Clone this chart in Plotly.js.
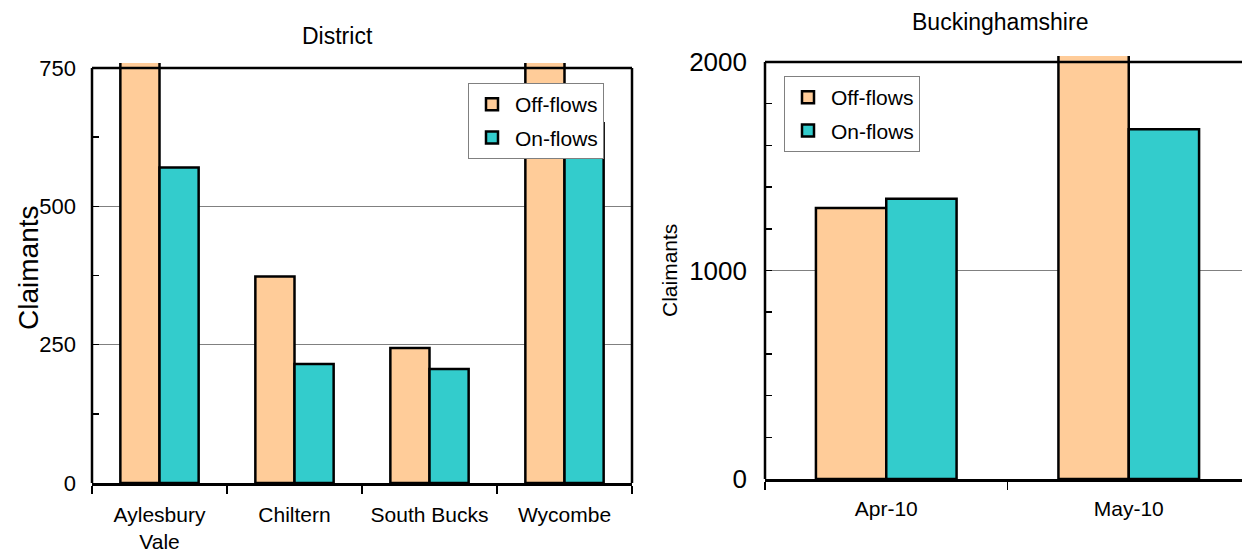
<!DOCTYPE html>
<html>
<head>
<meta charset="utf-8">
<script src="https://cdn.plot.ly/plotly-3.0.1.min.js"></script>
<style>html,body{margin:0;padding:0;background:#fff;}#chart{width:1242px;height:552px;}</style>
</head>
<body>
<div id="chart"></div>
<script>
// ---- data ----
const districts = ['Aylesbury<br>Vale', 'Chiltern', 'South Bucks', 'Wycombe'];
const districtOffFlows = [790, 373, 244, 780];
const districtOnFlows = [570, 215, 206, 650];

const months = ['Apr-10', 'May-10'];
const countyOffFlows = [1300, 2100];
const countyOnFlows = [1344, 1678];

const districtTicks = [0, 250, 500, 750];
const districtMinorTicks = [125, 375, 625];
const countyTicks = [0, 1000, 2000];
const countyMinorTicks = [200, 400, 600, 800, 1200, 1400, 1600, 1800];

// ---- styling ----
const FONT = 'Arial, "Liberation Sans", sans-serif';
const OFF_COLOR = '#FFCC99';
const ON_COLOR = '#33CCCC';
const W = 1242, H = 552;

const y1Dom = [1 - 483 / H, 1 - 63 / H];
const y1Range = [0, 759];
const x1Dom = [92 / W, 632 / W];
const y2Dom = [1 - 479 / H, 1 - 56 / H];
const y2Range = [0, 2029];
const x2Dom = [765 / W, 1];

function py(v, dom, range) {
  return dom[0] + (v - range[0]) / (range[1] - range[0]) * (dom[1] - dom[0]);
}

const barLine = {color: '#000', width: 2.5};

const traces = [
  {type: 'bar', name: 'Off-flows', x: districts, y: districtOffFlows, xaxis: 'x', yaxis: 'y',
   marker: {color: OFF_COLOR, line: barLine}, legend: 'legend', legendgroup: 'a1', hoverinfo: 'x+y'},
  {type: 'bar', name: 'On-flows', x: districts, y: districtOnFlows, xaxis: 'x', yaxis: 'y',
   marker: {color: ON_COLOR, line: barLine}, legend: 'legend', legendgroup: 'a2', hoverinfo: 'x+y'},
  {type: 'bar', name: 'Off-flows', x: months, y: countyOffFlows, xaxis: 'x2', yaxis: 'y2',
   marker: {color: OFF_COLOR, line: barLine}, legend: 'legend2', legendgroup: 'b1', hoverinfo: 'x+y'},
  {type: 'bar', name: 'On-flows', x: months, y: countyOnFlows, xaxis: 'x2', yaxis: 'y2',
   marker: {color: ON_COLOR, line: barLine}, legend: 'legend2', legendgroup: 'b2', hoverinfo: 'x+y'}
];

const lineStyle = {color: '#000', width: 2.5};
const y1Top = py(750, y1Dom, y1Range);
const y2Top = py(2000, y2Dom, y2Range);

const shapes = [
  {type: 'line', xref: 'paper', yref: 'paper', x0: x1Dom[0], x1: x1Dom[1], y0: y1Top, y1: y1Top, line: lineStyle},
  {type: 'line', xref: 'paper', yref: 'paper', x0: x1Dom[0], x1: x1Dom[0], y0: y1Dom[0], y1: y1Top, line: lineStyle},
  {type: 'line', xref: 'paper', yref: 'paper', x0: x1Dom[1], x1: x1Dom[1], y0: y1Dom[0], y1: y1Top, line: lineStyle},
  {type: 'line', xref: 'paper', yref: 'paper', x0: x2Dom[0], x1: x2Dom[1], y0: y2Top, y1: y2Top, line: lineStyle},
  {type: 'line', xref: 'paper', yref: 'paper', x0: x2Dom[0], x1: x2Dom[0], y0: y2Dom[0], y1: y2Top, line: lineStyle}
];

const xCommon = {
  type: 'category', tickson: 'boundaries', ticks: 'outside', ticklen: 8, tickwidth: 1.5, tickcolor: '#000',
  showline: true, linewidth: 2.5, linecolor: '#000', showgrid: false, zeroline: false, fixedrange: true
};
const yCommon = {
  ticks: 'inside', ticklen: 7, tickwidth: 1.5, tickcolor: '#000', showline: false, zeroline: false,
  showgrid: true, gridcolor: '#808080', gridwidth: 1, tickmode: 'array', fixedrange: true
};

const legendCommon = {
  xanchor: 'left', yanchor: 'top', bgcolor: '#fff', bordercolor: '#808080', borderwidth: 1,
  font: {size: 21, family: FONT}, tracegroupgap: 3, itemwidth: 36
};

const layout = {
  width: W, height: H,
  margin: {l: 0, r: 0, t: 0, b: 0},
  paper_bgcolor: '#fff', plot_bgcolor: '#fff',
  font: {family: FONT, color: '#000'},
  barmode: 'group', bargap: 0.42, bargroupgap: 0,
  showlegend: true,
  xaxis: Object.assign({}, xCommon, {domain: x1Dom, anchor: 'y', range: [-0.5, 3.5], tickfont: {size: 21},
    ticklabelstandoff: 11}),
  yaxis: Object.assign({}, yCommon, {domain: y1Dom, anchor: 'x', range: y1Range, tickvals: districtTicks,
    ticktext: districtTicks.map(String), tickfont: {size: 22}, ticklabelstandoff: 15,
    minor: {tickmode: 'array', tickvals: districtMinorTicks, ticks: 'inside', ticklen: 7, tickwidth: 1.5, tickcolor: '#000', showgrid: false}}),
  xaxis2: Object.assign({}, xCommon, {domain: x2Dom, anchor: 'y2', range: [-0.5, 1.467], tickfont: {size: 21},
    ticklabelstandoff: 9}),
  yaxis2: Object.assign({}, yCommon, {domain: y2Dom, anchor: 'x2', range: y2Range, tickvals: countyTicks,
    ticktext: countyTicks.map(String), tickfont: {size: 26}, ticklabelstandoff: 17,
    minor: {tickmode: 'array', tickvals: countyMinorTicks, ticks: 'inside', ticklen: 7, tickwidth: 1.5, tickcolor: '#000', showgrid: false}}),
  legend: Object.assign({}, legendCommon, {x: 468 / W, y: 1 - 83 / H}),
  legend2: Object.assign({}, legendCommon, {x: 784 / W, y: 1 - 76 / H}),
  shapes: shapes,
  annotations: [
    {text: 'District', xref: 'paper', yref: 'paper', x: 337 / W, y: 1 - 36 / H, xanchor: 'center', yanchor: 'middle',
     showarrow: false, font: {size: 23}},
    {text: 'Buckinghamshire', xref: 'paper', yref: 'paper', x: 1000 / W, y: 1 - 22 / H, xanchor: 'center', yanchor: 'middle',
     showarrow: false, font: {size: 23}},
    {text: 'Claimants', xref: 'paper', yref: 'paper', x: 29 / W, y: 1 - 268 / H, xanchor: 'center', yanchor: 'middle',
     textangle: -90, showarrow: false, font: {size: 28}},
    {text: 'Claimants', xref: 'paper', yref: 'paper', x: 669 / W, y: 1 - 270 / H, xanchor: 'center', yanchor: 'middle',
     textangle: -90, showarrow: false, font: {size: 21}}
  ]
};

Plotly.newPlot('chart', traces, layout, {displayModeBar: false, staticPlot: true});
</script>
</body>
</html>
